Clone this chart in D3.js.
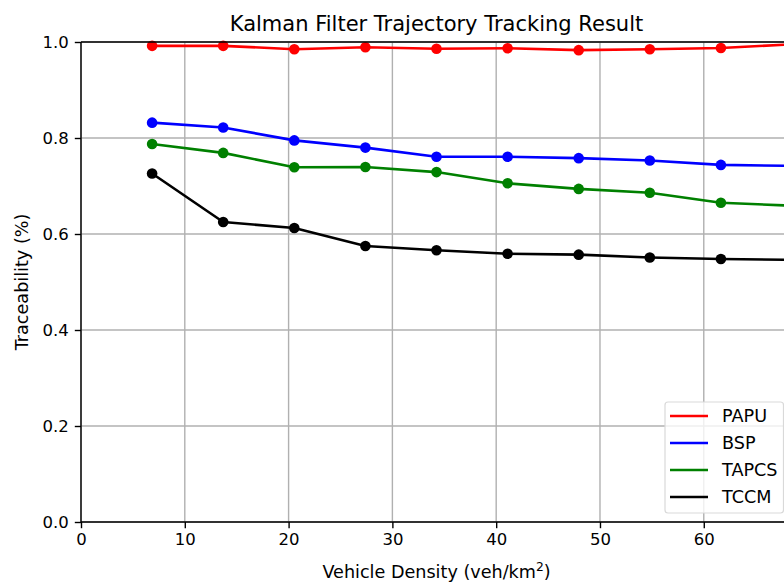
<!DOCTYPE html>
<html>
<head>
<meta charset="utf-8">
<script src="https://cdn.jsdelivr.net/npm/d3@7"></script>
<style>
  html, body { margin: 0; padding: 0; background: #fff; }
  svg { display: block; font-family: "DejaVu Sans", sans-serif; }
</style>
</head>
<body>
<svg id="chart" width="784" height="584"></svg>
<script>
// ---- data ----
const density = [6.85, 13.7, 20.55, 27.4, 34.25, 41.1, 47.95, 54.8, 61.65, 68.5];
const papu  = [0.992, 0.992, 0.985, 0.989, 0.986, 0.987, 0.983, 0.985, 0.9875, 0.995];
const bsp   = [0.832, 0.822, 0.795, 0.780, 0.761, 0.761, 0.758, 0.753, 0.744, 0.742];
const tapcs = [0.7875, 0.769, 0.739, 0.7396, 0.729, 0.7056, 0.694, 0.686, 0.665, 0.659];
const tccm  = [0.726, 0.625, 0.6125, 0.575, 0.566, 0.559, 0.557, 0.551, 0.548, 0.546];
const seriesNames = ["PAPU", "BSP", "TAPCS", "TCCM"];
const seriesColors = ["#ff0000", "#0000ff", "#008000", "#000000"];
const xTicks = [0, 10, 20, 30, 40, 50, 60];
const yTicks = [0.0, 0.2, 0.4, 0.6, 0.8, 1.0];
const titleText = "Kalman Filter Trajectory Tracking Result";
const yLabelText = "Traceability (%)";

const seriesValues = [papu, bsp, tapcs, tccm];

// ---- layout ----
const svg = d3.select("#chart");
const L = 81, R = 792, T = 42, B = 522;
const x = d3.scaleLinear().domain([0, 68.5]).range([L, R]);
const y = d3.scaleLinear().domain([0, 1]).range([B, T]);

const plot = svg.append("g");

// grid
plot.append("g").selectAll("line").data(xTicks).join("line")
  .attr("x1", d => x(d)).attr("x2", d => x(d))
  .attr("y1", T).attr("y2", B)
  .attr("stroke", "#b0b0b0").attr("stroke-width", 1.4);
plot.append("g").selectAll("line").data(yTicks).join("line")
  .attr("x1", L).attr("x2", R)
  .attr("y1", d => y(d)).attr("y2", d => y(d))
  .attr("stroke", "#b0b0b0").attr("stroke-width", 1.4);

// series
const line = d3.line().x(d => x(d[0])).y(d => y(d[1]));
seriesValues.forEach((vals, i) => {
  const pts = density.map((d, j) => [d, vals[j]]);
  plot.append("path").datum(pts)
    .attr("d", line).attr("fill", "none")
    .attr("stroke", seriesColors[i]).attr("stroke-width", 2.6)
    .attr("stroke-linejoin", "round");
  plot.append("g").selectAll("circle").data(pts).join("circle")
    .attr("cx", d => x(d[0])).attr("cy", d => y(d[1]))
    .attr("r", 5.3).attr("fill", seriesColors[i]);
});

// axes
const xAxis = d3.axisBottom(x).tickValues(xTicks).tickFormat(d3.format("d"))
  .tickSize(6.2).tickPadding(5);
const gx = svg.append("g").attr("transform", `translate(0,${B})`).call(xAxis);
const yAxis = d3.axisLeft(y).tickValues(yTicks).tickFormat(d3.format(".1f"))
  .tickSize(6.2).tickPadding(6);
const gy = svg.append("g").attr("transform", `translate(${L},0)`).call(yAxis);
[gx, gy].forEach(g => {
  g.select(".domain").remove();
  g.selectAll(".tick line").attr("stroke", "#000").attr("stroke-width", 1.4);
  g.selectAll(".tick text").attr("fill", "#000").style("font-size", "16.5px")
    .style("font-family", "DejaVu Sans, sans-serif");
});

// spines
const sp = svg.append("g").attr("stroke", "#000").attr("stroke-width", 1.4);
sp.append("line").attr("x1", L).attr("x2", L).attr("y1", T).attr("y2", B);
sp.append("line").attr("x1", L).attr("x2", R).attr("y1", B).attr("y2", B);
sp.append("line").attr("x1", L).attr("x2", R).attr("y1", T).attr("y2", T);
sp.append("line").attr("x1", R).attr("x2", R).attr("y1", T).attr("y2", B);

// title & labels
svg.append("text").attr("x", (L + R) / 2).attr("y", 31)
  .attr("text-anchor", "middle").style("font-size", "21px").attr("fill", "#000")
  .text(titleText);
const xl = svg.append("text").attr("x", (L + R) / 2).attr("y", 578)
  .attr("text-anchor", "middle").style("font-size", "17.6px").attr("fill", "#000");
xl.append("tspan").text("Vehicle Density (veh/km");
xl.append("tspan").attr("baseline-shift", "super").style("font-size", "12.3px").text("2");
xl.append("tspan").text(")");
svg.append("text")
  .attr("transform", `translate(28,${(T + B) / 2}) rotate(-90)`)
  .attr("text-anchor", "middle").style("font-size", "17.6px").attr("fill", "#000")
  .text(yLabelText);

// legend
const lg = svg.append("g");
lg.append("rect").attr("x", 665).attr("y", 402).attr("width", 118.5).attr("height", 111)
  .attr("rx", 3).attr("fill", "#fff").attr("fill-opacity", 0.8)
  .attr("stroke", "#d9d9d9").attr("stroke-width", 1.2);
seriesNames.forEach((n, i) => {
  const yy = 416 + i * 27;
  lg.append("line").attr("x1", 670).attr("x2", 708).attr("y1", yy).attr("y2", yy)
    .attr("stroke", seriesColors[i]).attr("stroke-width", 2.6);
  lg.append("text").attr("x", 722).attr("y", yy).attr("dy", "0.35em")
    .style("font-size", "17.6px").attr("fill", "#000").text(n);
});
</script>
</body>
</html>
